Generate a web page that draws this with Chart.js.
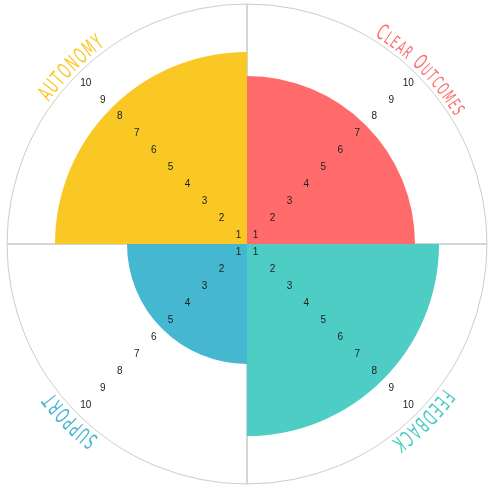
<!DOCTYPE html>
<html>
<head>
<meta charset="utf-8">
<script src="https://cdn.jsdelivr.net/npm/chart.js@4.4.0/dist/chart.umd.min.js"></script>
<style>
  html, body { margin: 0; padding: 0; background: #fff; }
  #wrap { width: 492px; height: 491px; }
</style>
</head>
<body>
<div id="wrap"><canvas id="wheel"></canvas></div>
<script>
// Wheel data
const categories = ['Clear Outcomes', 'FEEDBACK', 'SUPPORT', 'AUTONOMY'];
const scores = [7, 8, 5, 8];
const tickLabels = [1, 2, 3, 4, 5, 6, 7, 8, 9, 10];
const colours = ['#FF6B6B', '#4ECDC4', '#45B7D1', '#F9C825'];

// numbers 1..10 run along the four diagonals, halfway between rings
const diagonalTicks = {
    id: 'diagonalTicks',
    afterDatasetsDraw(chart) {
        const r = chart.scales.r;
        const ctx = chart.ctx;
        ctx.save();
        ctx.font = '10px "Liberation Sans", Arial, sans-serif';
        ctx.fillStyle = '#222';
        ctx.textAlign = 'center';
        ctx.textBaseline = 'middle';
        chart.getDatasetMeta(0).data.forEach(arc => {
            const a = (arc.startAngle + arc.endAngle) / 2;
            tickLabels.forEach(v => {
                const d = r.getDistanceFromCenterForValue(v - 0.5);
                ctx.fillText(String(v), r.xCenter + d * Math.cos(a), r.yCenter + d * Math.sin(a));
            });
        });
        ctx.restore();
    }
};

// category names bent round the outside of the circle
const arcLabels = {
    id: 'arcLabels',
    afterDraw(chart) {
        const r = chart.scales.r;
        const ctx = chart.ctx;
        const radius = r.drawingArea + 4;
        const squeeze = 0.6;
        const gap = 1.5;
        ctx.save();
        chart.getDatasetMeta(0).data.forEach((arc, i) => {
            const mid = (arc.startAngle + arc.endAngle) / 2;
            const glyphs = [...categories[i]].map(ch => {
                const small = ch !== ch.toUpperCase();
                const size = small ? 18 : 22;
                ctx.font = size + 'px "Liberation Sans Narrow", "DejaVu Sans Condensed", sans-serif';
                const w = ch === ' ' ? 4 : ctx.measureText(ch.toUpperCase()).width * squeeze;
                return { ch: ch.toUpperCase(), size, w };
            });
            const total = glyphs.reduce((s, g) => s + g.w, 0) + gap * (glyphs.length - 1);
            let pos = -total / 2;
            ctx.fillStyle = colours[i];
            glyphs.forEach(g => {
                const a = mid + (pos + g.w / 2) / radius;
                pos += g.w + gap;
                if (g.ch === ' ') return;
                ctx.save();
                ctx.translate(r.xCenter + radius * Math.cos(a), r.yCenter + radius * Math.sin(a));
                ctx.rotate(a + Math.PI / 2);
                ctx.scale(squeeze, 1);
                ctx.font = g.size + 'px "Liberation Sans Narrow", "DejaVu Sans Condensed", sans-serif';
                ctx.textAlign = 'center';
                ctx.textBaseline = 'alphabetic';
                ctx.fillText(g.ch, 0, 0);
                ctx.restore();
            });
        });
        ctx.restore();
    }
};

const ctx = document.getElementById('wheel').getContext('2d');
const wheel = new Chart(ctx, {
    type: 'polarArea',
    data: {
        labels: categories,
        datasets: [{
            data: scores,
            backgroundColor: colours,
            borderWidth: 0
        }]
    },
    options: {
        responsive: true,
        maintainAspectRatio: false,
        animation: false,
        layout: { padding: { left: 7, right: 5, top: 4, bottom: 7 } },
        plugins: {
            legend: { display: false },
            tooltip: { enabled: false }
        },
        scales: {
            r: {
                min: 0,
                max: 10,
                z: 1,
                ticks: { display: false, stepSize: 10 },
                grid: { color: '#cccccc', lineWidth: 1 },
                angleLines: { display: true, color: '#d4d4d4', lineWidth: 2 },
                pointLabels: { display: false }
            }
        }
    },
    plugins: [diagonalTicks, arcLabels]
});
</script>
</body>
</html>
